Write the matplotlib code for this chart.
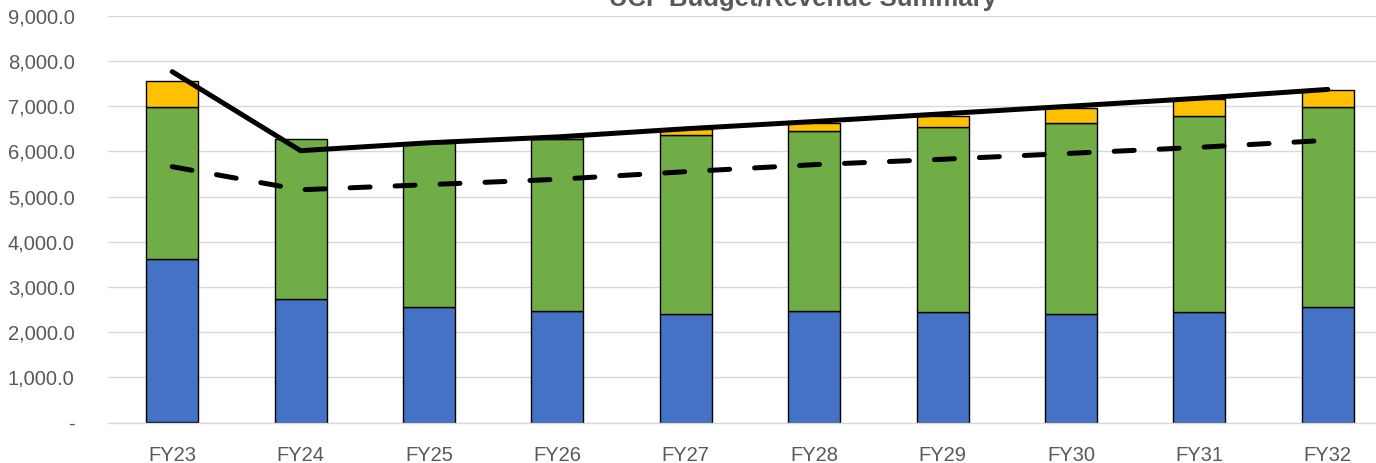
import matplotlib
matplotlib.use('Agg')
import matplotlib.pyplot as plt
from matplotlib.ticker import FuncFormatter
import numpy as np

categories = ['FY23', 'FY24', 'FY25', 'FY26', 'FY27', 'FY28', 'FY29', 'FY30', 'FY31', 'FY32']
other_vals = [15, 0, 0, 0, 0, 0, 0, 0, 0, 0]
blue_vals = [3605, 2730, 2565, 2477, 2404, 2477, 2441, 2404, 2448, 2559]
green_vals = [3370, 3537, 3610, 3790, 3959, 3980, 4091, 4217, 4328, 4429]
yellow_vals = [565, 0, 0, 40, 125, 177, 257, 345, 376, 369]
solid_line = [7762, 6015, 6190, 6320, 6500, 6660, 6830, 7000, 7175, 7370]
dashed_line = [5661, 5150, 5265, 5382, 5551, 5706, 5825, 5957, 6090, 6245]
title = 'UCF Budget/Revenue Summary'

W, H = 1376, 463
fig = plt.figure(figsize=(W / 100, H / 100), dpi=100)
left, right = 108, 1392
bottom_px, top_px = 422.7, 15.7
ax = fig.add_axes([left / W, (H - bottom_px) / H, (right - left) / W, (bottom_px - top_px) / H])

x = np.arange(len(categories))
bw = 0.405
o = np.array(other_vals, float)
b = np.array(blue_vals, float)
g = np.array(green_vals, float)
yv = np.array(yellow_vals, float)

ax.bar(x, o, bw, color='#ED7D31', edgecolor='#ED7D31', linewidth=0.8, zorder=2)
ax.bar(x, b, bw, bottom=o, color='#4472C4', edgecolor='black', linewidth=1.0, zorder=2)
ax.bar(x, g, bw, bottom=o + b, color='#70AD47', edgecolor='black', linewidth=1.0, zorder=2)
ym = yv > 0
ax.bar(x[ym], yv[ym], bw, bottom=(o + b + g)[ym], color='#FFC000', edgecolor='black', linewidth=1.0, zorder=2)

ax.plot(x, solid_line, color='black', linewidth=3.6, solid_capstyle='round', solid_joinstyle='round', zorder=4)
ax.plot(x, dashed_line, color='black', linewidth=3.6, dashes=(4.0, 5.0), dash_capstyle='round', zorder=4)

ax.set_xlim(-0.5, len(categories) - 0.5)
ax.set_ylim(0, 9000)
ax.set_yticks(np.arange(0, 9001, 1000))
ax.yaxis.set_major_formatter(FuncFormatter(lambda v, p: '-' if v == 0 else f'{v:,.1f}'))
ax.set_xticks(x)
ax.set_xticklabels(categories)
ax.grid(axis='y', color='#D9D9D9', linewidth=1.0, zorder=0)
ax.set_axisbelow(True)
for s in ['top', 'right', 'left']:
    ax.spines[s].set_visible(False)
ax.spines['bottom'].set_color('#D9D9D9')
ax.spines['bottom'].set_linewidth(1.0)
ax.tick_params(axis='both', length=0, labelcolor='#595959', labelsize=14.5, pad=0)
ax.tick_params(axis='y', pad=24)
ax.tick_params(axis='x', pad=17)
for lab in ax.get_xticklabels() + ax.get_yticklabels():
    lab.set_fontfamily('Liberation Sans')

fig.text(803 / W, (H - 6) / H, title, ha='center', va='baseline', fontsize=18.5,
         fontweight='bold', color='#595959', family='Liberation Sans')

fig.savefig('out.png', dpi=100)
